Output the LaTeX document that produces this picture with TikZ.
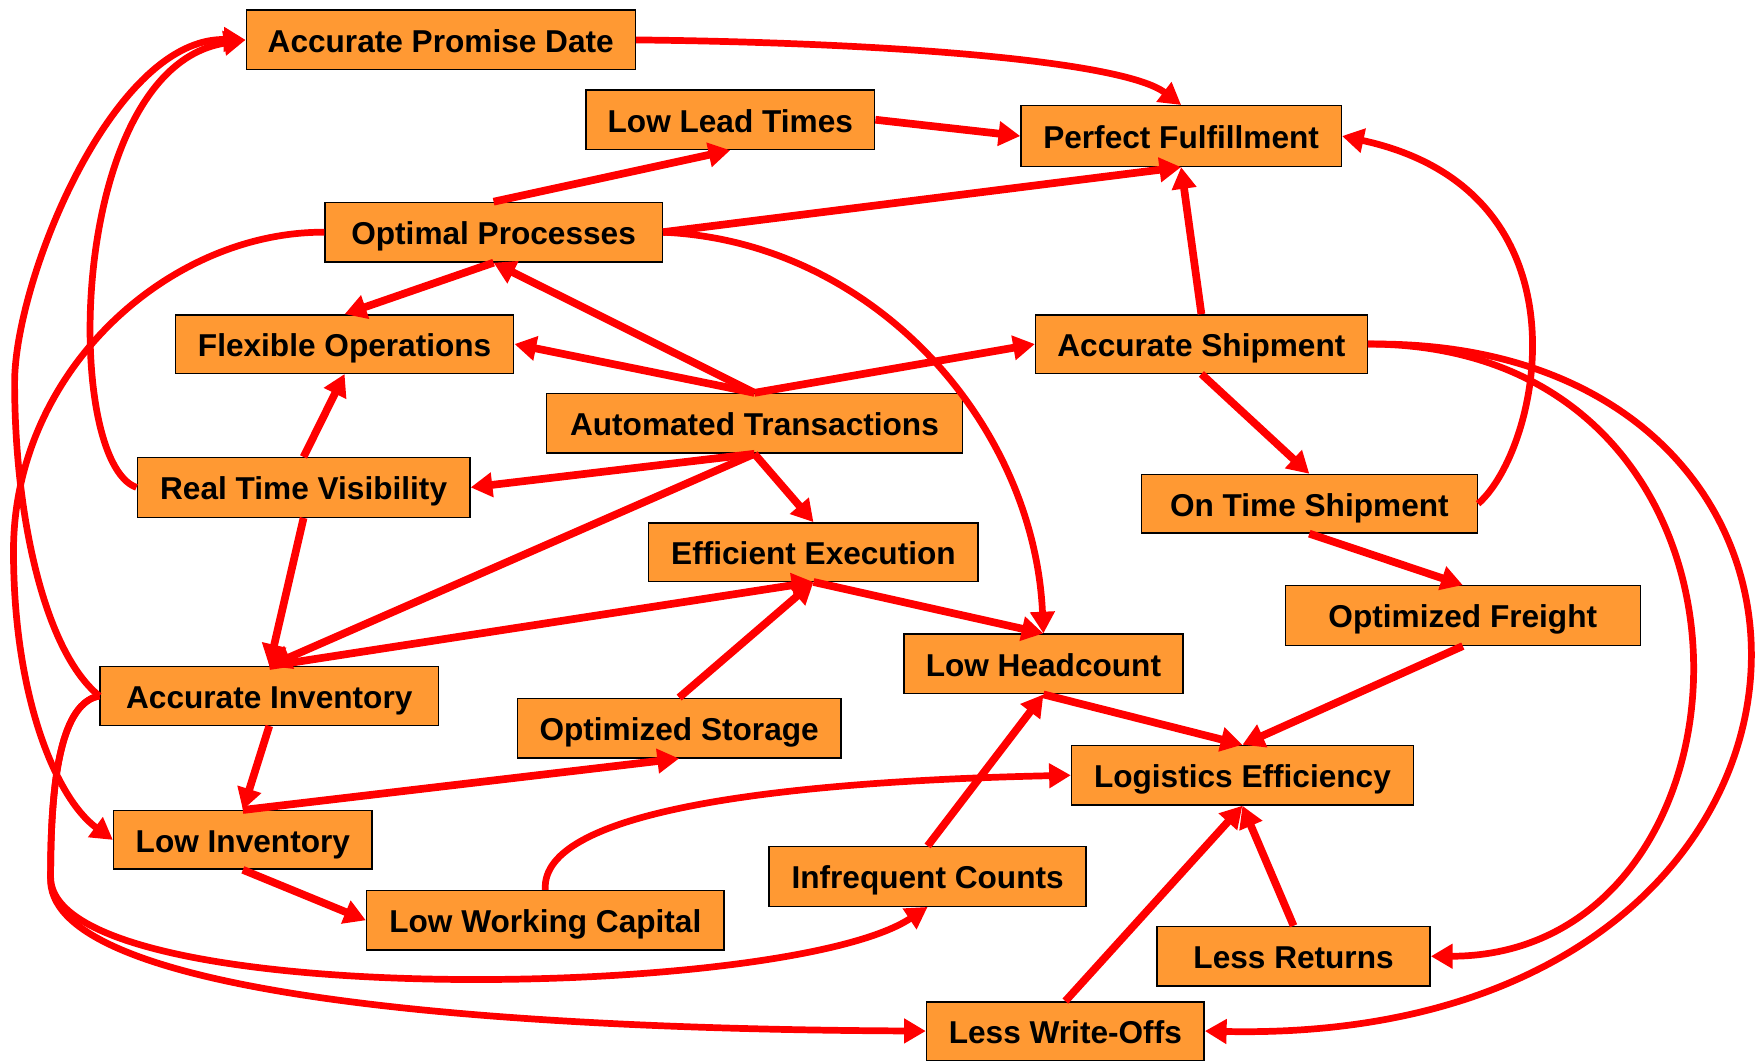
\documentclass[tikz,border=0pt]{standalone}
\usepackage{fontspec}
\setmainfont{Liberation Sans}
\usetikzlibrary{arrows.meta}
\definecolor{boxorange}{HTML}{FF9933}
\definecolor{linkred}{HTML}{FF0000}
\begin{document}
\begin{tikzpicture}[x=0.02cm,y=-0.02cm,
  box/.style={draw=black, line width=0.7pt, fill=boxorange, inner sep=0pt,
    text height=12.5pt, text depth=0pt,
    minimum height=1.06cm, font=\fontsize{16}{19}\selectfont\bfseries},
  link/.style={draw=linkred, line width=3.9pt, line cap=butt,
    -{Triangle[length=11pt,width=12pt]}},
  curvelink/.style={link, line width=3.4pt}]
\useasboundingbox (0,0) rectangle (1568,943);
% nodes
\node[box, minimum width=6.92cm] (APD) at (392,35.5) {Accurate Promise Date};
\node[box, minimum width=5.14cm] (LLT) at (649.5,106.5) {Low Lead Times};
\node[box, minimum width=5.70cm, minimum height=1.08cm] (PF) at (1050.5,121) {Perfect Fulfillment};
\node[box, minimum width=6.00cm] (OP) at (439,206.5) {Optimal Processes};
\node[box, minimum width=6.02cm, minimum height=1.04cm] (FO) at (306.5,306) {Flexible Operations};
\node[box, minimum width=5.90cm, minimum height=1.04cm] (AS) at (1068.5,306) {Accurate Shipment};
\node[box, minimum width=7.40cm] (AT) at (671,376.5) {Automated Transactions};
\node[box, minimum width=5.92cm] (RTV) at (270,433.5) {Real Time Visibility};
\node[box, minimum width=5.98cm, minimum height=1.04cm] (OTS) at (1164.5,448) {On Time Shipment};
\node[box, minimum width=5.86cm, minimum height=1.04cm] (EE) at (723.5,491) {Efficient Execution};
\node[box, minimum width=6.32cm] (OF) at (1301,547.5) {Optimized Freight};
\node[box, minimum width=4.96cm] (LH) at (928,590.5) {Low Headcount};
\node[box, minimum width=6.02cm, minimum height=1.04cm] (AI) at (239.5,619) {Accurate Inventory};
\node[box, minimum width=5.76cm] (OS) at (604,647.5) {Optimized Storage};
\node[box, minimum width=6.08cm] (LE) at (1105,689.5) {Logistics Efficiency};
\node[box, minimum width=4.60cm, minimum height=1.04cm] (LI) at (216,747) {Low Inventory};
\node[box, minimum width=5.64cm] (IC) at (825,779.5) {Infrequent Counts};
\node[box, minimum width=6.36cm] (LWC) at (485,818.5) {Low Working Capital};
\node[box, minimum width=4.86cm] (LR) at (1150.5,850.5) {Less Returns};
\node[box, minimum width=4.94cm, minimum height=1.04cm] (LWO) at (947.5,917) {Less Write-Offs};
% connectors
\draw[curvelink] (APD.east) .. controls (800,38) and (1000,55) .. (PF.north);
\draw[link] (LLT.east) -- (PF.west);
\draw[link] (OP.north) -- (LLT.south);
\draw[link] (OP.east) -- (PF.south);
\draw[link] (AS.north) -- (PF.south);
\draw[curvelink] (OP.east) .. controls (780,215) and (920,380) .. (LH.north);
\draw[link] (OP.south) -- (FO.north);
\draw[link] (AT.north) -- (OP.south);
\draw[link] (AT.north) -- (FO.east);
\draw[link] (AT.north) -- (AS.west);
\draw[link] (AT.south) -- (RTV.east);
\draw[link] (AT.south) -- (EE.north);
\draw[link] (AT.south) -- (AI.north);
\draw[link] (RTV.north) -- (FO.south);
\draw[link] (RTV.south) -- (AI.north);
\draw[link] (AI.north) -- (EE.south);
\draw[link] (EE.south) -- (LH.north);
\draw[link] (OS.north) -- (EE.south);
\draw[link] (AI.south) -- (LI.north);
\draw[link] (LI.north) -- (OS.south);
\draw[link] (LI.south) -- (LWC.west);
\draw[curvelink] (LWC.north) .. controls (480,720) and (700,695) .. (LE.west);
\draw[link] (IC.north) -- (LH.south);
\draw[link] (LH.south) -- (LE.north);
\draw[link] (OF.south) -- (LE.north);
\draw[link] (OTS.south) -- (OF.north);
\draw[link] (AS.south) -- (OTS.north);
\draw[curvelink] (OTS.east) .. controls (1370,400) and (1420,170) .. (PF.east);
\draw[curvelink] (AS.east) .. controls (1600,306) and (1580,850) .. (LR.east);
\draw[curvelink] (AS.east) .. controls (1700,300) and (1680,930) .. (LWO.east);
\draw[link] (LR.north) -- (LE.south);
\draw[link] (LWO.north) -- (LE.south);
\draw[curvelink] (RTV.west) .. controls (55,410) and (60,60) .. (APD.west);
\draw[curvelink] (AI.west) .. controls (40,580) and (13,460) .. (13,340)
   .. controls (13,250) and (100,33) .. (APD.west);
\draw[curvelink] (OP.west) .. controls (150,206) and (12,330) .. (12,490)
   .. controls (12,620) and (50,710) .. (LI.west);
\draw[curvelink] (AI.west) .. controls (55,625) and (45,690) .. (45,780)
   .. controls (45,900) and (700,890) .. (IC.south);
\draw[curvelink] (AI.west) .. controls (55,625) and (45,690) .. (45,780)
   .. controls (40,880) and (400,915) .. (LWO.west);
\end{tikzpicture}
\end{document}
